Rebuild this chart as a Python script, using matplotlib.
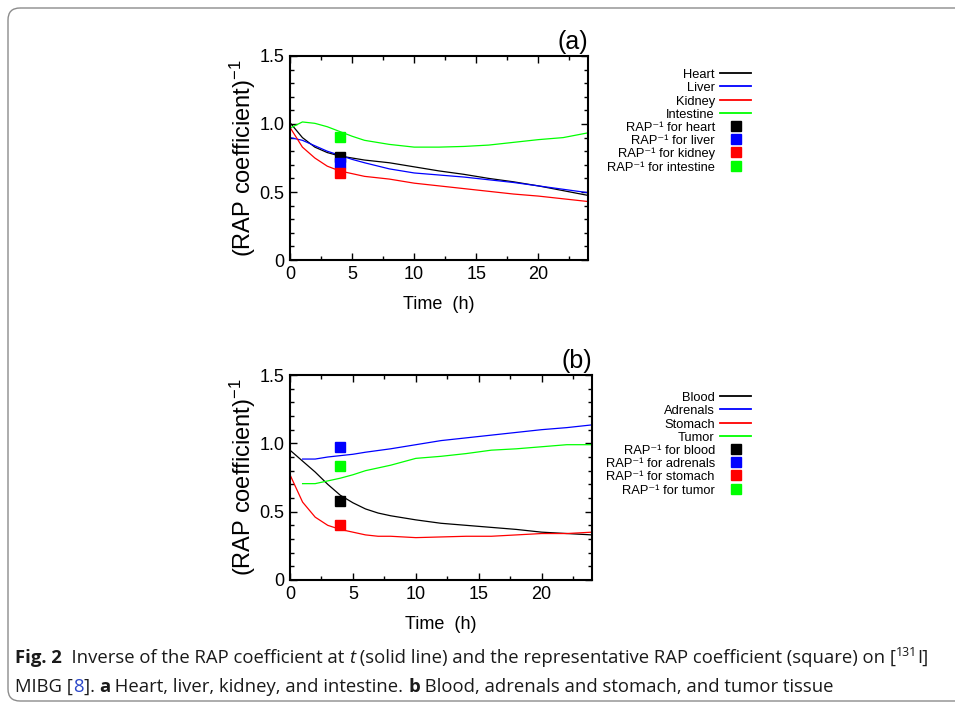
import numpy as np
import matplotlib
matplotlib.use('Agg')
import matplotlib.pyplot as plt
from matplotlib.lines import Line2D
from matplotlib.patches import FancyBboxPatch
from matplotlib.ticker import MultipleLocator

plt.rcParams.update({'font.family': ['Liberation Sans', 'DejaVu Sans']})
plt.rcParams.update({'mathtext.fontset': 'custom'})
plt.rcParams.update({'mathtext.rm': 'Liberation Sans'})
plt.rcParams.update({'mathtext.it': 'Liberation Sans:italic'})

colors = ['#000000', '#0000ff', '#ff0000', '#00ff00']

# (a) heart, liver, kidney, intestine
t_a = [0, 1, 2, 3, 4, 5, 6, 8, 10, 12, 14, 16, 18, 20, 22, 24]
heart = [1.01, 0.90, 0.83, 0.79, 0.765, 0.75, 0.735, 0.715, 0.685, 0.655, 0.63, 0.60, 0.575, 0.545, 0.51, 0.475]
liver = [0.90, 0.88, 0.84, 0.80, 0.77, 0.74, 0.715, 0.67, 0.64, 0.625, 0.61, 0.59, 0.57, 0.545, 0.52, 0.495]
kidney = [0.975, 0.83, 0.75, 0.69, 0.655, 0.635, 0.615, 0.595, 0.565, 0.545, 0.525, 0.505, 0.485, 0.47, 0.45, 0.43]
intestine = [0.97, 1.015, 1.005, 0.98, 0.945, 0.91, 0.88, 0.85, 0.83, 0.83, 0.835, 0.845, 0.865, 0.885, 0.90, 0.935]
rap_a = [0.755, 0.71, 0.64, 0.905]
names_a = ['Heart', 'Liver', 'Kidney', 'Intestine']
rap_names_a = ['heart', 'liver', 'kidney', 'intestine']

# (b) blood, adrenals, stomach, tumor
t_b1 = [0, 1, 2, 3, 4, 5, 6, 7, 8, 10, 12, 14, 16, 18, 20, 22, 24]
blood = [0.95, 0.87, 0.79, 0.70, 0.62, 0.565, 0.52, 0.49, 0.47, 0.44, 0.415, 0.40, 0.385, 0.37, 0.35, 0.34, 0.33]
stomach = [0.77, 0.57, 0.46, 0.40, 0.37, 0.35, 0.33, 0.32, 0.32, 0.31, 0.315, 0.32, 0.32, 0.33, 0.34, 0.34, 0.35]
t_b2 = [1, 2, 3, 4, 5, 6, 8, 10, 12, 14, 16, 18, 20, 22, 24]
adrenals = [0.885, 0.885, 0.90, 0.91, 0.92, 0.935, 0.96, 0.99, 1.02, 1.04, 1.06, 1.08, 1.10, 1.115, 1.135]
tumor = [0.705, 0.705, 0.725, 0.745, 0.77, 0.80, 0.84, 0.89, 0.905, 0.925, 0.95, 0.96, 0.975, 0.99, 0.99]
rap_b = [0.58, 0.975, 0.40, 0.835]
names_b = ['Blood', 'Adrenals', 'Stomach', 'Tumor']
rap_names_b = ['blood', 'adrenals', 'stomach', 'tumor']

t_rap = 4

fig = plt.figure(figsize=(9.55, 7.04), dpi=100)

# page frame
bg = fig.add_axes([0, 0, 1, 1])
bg.axis('off')
bg.set_xlim(0, 955)
bg.set_ylim(704, 0)
bg.add_patch(FancyBboxPatch((8, 8), 990, 693, boxstyle='round,pad=0,rounding_size=12',
                            fc='none', ec='#8c8c8c', lw=1.0))


def panel(rect, tag, curves, rap, names, rap_names, leg_y):
    ax = fig.add_axes(rect)
    for (tt, yy), c in zip(curves, colors):
        ax.plot(tt, yy, color=c, lw=0.9)
    for v, c in zip(rap, colors):
        ax.plot(t_rap, v, marker='s', ms=7, color=c, ls='none')
    ax.set_xlim(0, 24)
    ax.set_ylim(0, 1.5)
    ax.xaxis.set_major_locator(MultipleLocator(5))
    ax.xaxis.set_minor_locator(MultipleLocator(2.5))
    ax.yaxis.set_major_locator(MultipleLocator(0.5))
    ax.yaxis.set_minor_locator(MultipleLocator(0.1))
    ax.set_yticks([0, 0.5, 1.0, 1.5])
    ax.set_yticklabels(['0', '0.5', '1.0', '1.5'])
    ax.tick_params(which='both', direction='in', top=True, right=True, labelsize=13, width=1, pad=4)
    ax.tick_params(which='major', length=5)
    ax.tick_params(which='minor', length=3)
    for s in ax.spines.values():
        s.set_linewidth(1.5)
    ax.set_xlabel('Time  (h)', fontsize=13, labelpad=10)
    ax.set_ylabel('(RAP coefficient)$^{-1}$', fontsize=17, labelpad=1)
    ax.set_title(tag, loc='right', fontsize=18, pad=5)

    handles = [Line2D([], [], color=c, lw=1.3) for c in colors]
    handles += [Line2D([], [], color=c, marker='s', ms=7.5, ls='none') for c in colors]
    labels = names + ['RAP\u207b\u00b9 for ' + n for n in rap_names]
    ax.legend(handles, labels, loc='upper right', bbox_to_anchor=(751 / 955, leg_y),
              bbox_transform=fig.transFigure, frameon=False, markerfirst=False,
              fontsize=9.3, handlelength=2.4, handleheight=1.0, handletextpad=0.4,
              labelspacing=0.0, borderpad=0, borderaxespad=0)
    return ax


panel([290 / 955, 1 - 260 / 704, 298 / 955, 204 / 704], '(a)',
      [(t_a, heart), (t_a, liver), (t_a, kidney), (t_a, intestine)],
      rap_a, names_a, rap_names_a, 1 - 68 / 704)
panel([290 / 955, 1 - 580 / 704, 302 / 955, 205 / 704], '(b)',
      [(t_b1, blood), (t_b2, adrenals), (t_b1, stomach), (t_b2, tumor)],
      rap_b, names_b, rap_names_b, 1 - 391 / 704)

# caption, built piece by piece
cap = dict(fontsize=13.3, family='Open Sans', color='#1a1a1a')


def chain(prev, s, dy=0, **kw):
    kk = dict(cap)
    kk.update(kw)
    return bg.annotate(s, xy=(1, 0), xycoords=prev, xytext=(0, dy), textcoords='offset points',
                       ha='left', va='bottom', **kk)


p = bg.text(15, 667, 'Fig. 2', fontweight='bold', va='bottom', ha='left', **cap)
p = chain(p, '  Inverse of the RAP coefficient at ')
p = chain(p, 't', style='italic')
p = chain(p, ' (solid line) and the representative RAP coefficient (square) on [')
p = chain(p, '131', dy=6, fontsize=9)
p = chain(p, 'I]', dy=-6)

p = bg.text(15, 696, 'MIBG [', va='bottom', ha='left', **cap)
p = chain(p, '8', color='#2b47c9')
p = chain(p, ']. ')
p = chain(p, 'a', fontweight='bold')
p = chain(p, ' Heart, liver, kidney, and intestine. ')
p = chain(p, 'b', fontweight='bold')
p = chain(p, ' Blood, adrenals and stomach, and tumor tissue')

fig.savefig('out.png', dpi=100)
